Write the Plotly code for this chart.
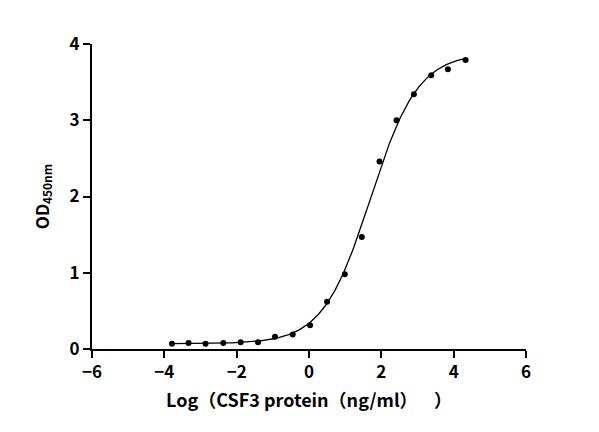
import numpy as np
import plotly.graph_objects as go

# measured points
log_conc = [-3.79, -3.33, -2.86, -2.37, -1.89, -1.41, -0.94, -0.45, 0.03,
            0.50, 0.99, 1.46, 1.95, 2.42, 2.90, 3.38, 3.84, 4.33]
od450 = [0.07, 0.08, 0.07, 0.08, 0.09, 0.09, 0.16, 0.19, 0.31,
         0.62, 0.98, 1.47, 2.46, 3.00, 3.34, 3.59, 3.67, 3.79]

# 4PL fit parameters
bottom, top, log_ec50, hill = 0.07, 3.88, 1.70, 0.66

xc = np.linspace(min(log_conc), max(log_conc), 300)
yc = bottom + (top - bottom) / (1 + 10 ** ((log_ec50 - xc) * hill))

font = "Noto Sans CJK SC"

fig = go.Figure()
fig.add_trace(go.Scatter(x=xc, y=yc, mode="lines",
                         line=dict(color="black", width=1.3), hoverinfo="skip"))
fig.add_trace(go.Scatter(x=log_conc, y=od450, mode="markers",
                         marker=dict(color="black", size=6)))

fig.update_layout(
    width=599, height=432,
    margin=dict(l=84, r=81, t=36, b=91),
    plot_bgcolor="white", paper_bgcolor="white",
    showlegend=False,
    font=dict(family=font, color="black", size=17),
)
fig.update_xaxes(
    range=[-6, 6], tickvals=[-6, -4, -2, 0, 2, 4, 6],
    showgrid=False, zeroline=False, showline=True, linecolor="black", linewidth=2,
    ticks="outside", ticklen=7, tickwidth=2, tickcolor="black",
    tickfont=dict(family=font, size=17, weight="bold"),
    title=dict(text="<b>Log（CSF3 protein（ng/ml）    ）</b>", font=dict(size=18), standoff=12),
)
fig.update_yaxes(
    range=[0, 4], tickvals=[0, 1, 2, 3, 4],
    showgrid=False, zeroline=False, showline=True, linecolor="black", linewidth=2,
    ticks="outside", ticklen=7, tickwidth=2, tickcolor="black",
    tickfont=dict(family=font, size=17, weight="bold"),
    title=dict(text="<b>OD<sub>450nm</sub></b>", font=dict(size=17), standoff=16),
)

fig.write_html("out.html")
